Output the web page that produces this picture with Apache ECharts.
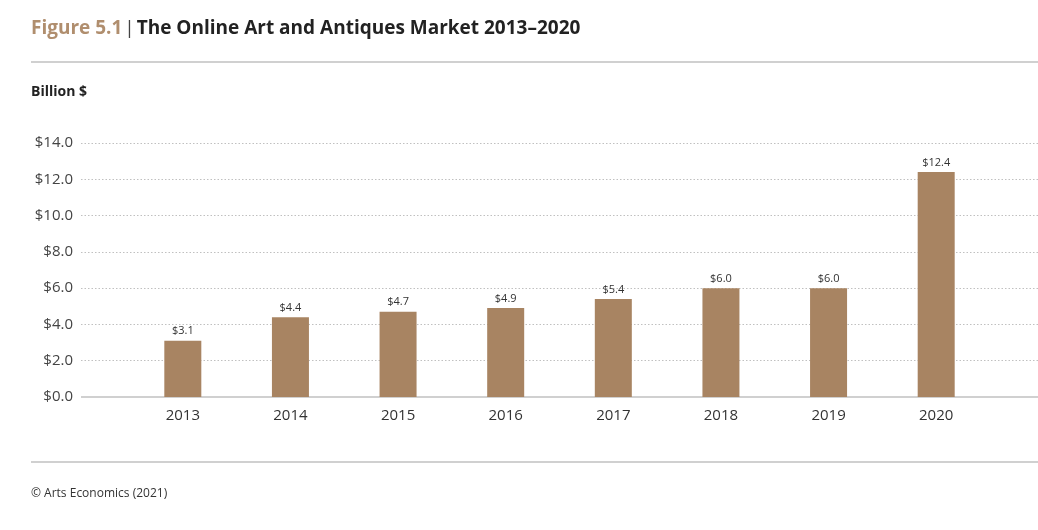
<!DOCTYPE html>
<html><head><meta charset="utf-8">
<script src="https://cdn.jsdelivr.net/npm/echarts@6/dist/echarts.min.js"></script>
<style>html,body{margin:0;padding:0;background:#fff}#c{width:1038px;height:530px}</style>
</head><body><div id="c"></div>
<script>
var categories = ['2013','2014','2015','2016','2017','2018','2019','2020'];
var values = [3.1, 4.4, 4.7, 4.9, 5.4, 6.0, 6.0, 12.4];
var yTicks = [0, 2, 4, 6, 8, 10, 12, 14];

var FONT = '"Open Sans", "Noto Sans", sans-serif';
var chart = echarts.init(document.getElementById('c'));
chart.setOption({
  animation: false,
  backgroundColor: '#fff',
  title: [{
    left: 31, top: 19, padding: 0,
    text: '{a|Figure 5.1}{b| | }{c|The Online Art and Antiques Market 2013–2020}',
    textStyle: {
      rich: {
        a: {fontFamily: FONT, fontSize: 19, fontWeight: 'bold', color: '#B08E6E'},
        b: {fontFamily: FONT, fontSize: 19, fontWeight: 'normal', color: '#444', padding: [0, -3, 0, -3]},
        c: {fontFamily: FONT, fontSize: 19, fontWeight: 'bold', color: '#222'}
      }
    }
  }, {
    left: 31, top: 85, padding: 0, text: 'Billion $',
    textStyle: {fontFamily: FONT, fontSize: 14, fontWeight: 'bold', color: '#222'}
  }, {
    left: 31, top: 488, padding: 0, text: '© Arts Economics (2021)',
    textStyle: {fontFamily: FONT, fontSize: 12, fontWeight: 'normal', color: '#333'}
  }],
  graphic: [
    {type: 'line', shape: {x1: 31, y1: 62, x2: 1038, y2: 62}, style: {stroke: '#d0d0d0', lineWidth: 2}},
    {type: 'line', shape: {x1: 31, y1: 462, x2: 1038, y2: 462}, style: {stroke: '#d0d0d0', lineWidth: 2}}
  ],
  grid: [
    {left: 81, right: 0, top: 143, bottom: 133},
    {left: 129, right: 48, top: 143, bottom: 133}
  ],
  xAxis: [
    {gridIndex: 0, type: 'value', min: 0, max: 1, show: true,
      axisLine: {show: false}, axisTick: {show: false}, axisLabel: {show: false}, splitLine: {show: false}},
    {gridIndex: 1, type: 'category', data: categories,
      axisLine: {show: false}, axisTick: {show: false},
      axisLabel: {fontFamily: FONT, fontSize: 15, color: '#333', margin: 11}}
  ],
  yAxis: [
    {gridIndex: 0, type: 'value', min: 0, max: 14, interval: 2,
      axisLine: {show: false}, axisTick: {show: false},
      axisLabel: {fontFamily: FONT, fontSize: 15, color: '#444', margin: 8,
        formatter: function (v) { return '$' + v.toFixed(1); }},
      splitLine: {lineStyle: {color: '#c0c0c0', type: [1.5, 2], width: 1}}},
    {gridIndex: 1, type: 'value', min: 0, max: 14, interval: 2, show: false,
      splitLine: {show: false}}
  ],
  series: [{
    type: 'line', xAxisIndex: 0, yAxisIndex: 0, data: [[0, 0], [1, 0]],
    symbol: 'none', lineStyle: {color: '#d0d0d0', width: 2}, silent: true, z: 1
  }, {
    type: 'bar', xAxisIndex: 1, yAxisIndex: 1, data: values, barWidth: 37,
    itemStyle: {color: '#A88462'}, z: 3,
    label: {show: true, position: 'top', distance: 4, fontFamily: FONT, fontSize: 11, color: '#333',
      formatter: function (p) { return '$' + p.value.toFixed(1); }}
  }]
});
</script></body></html>
